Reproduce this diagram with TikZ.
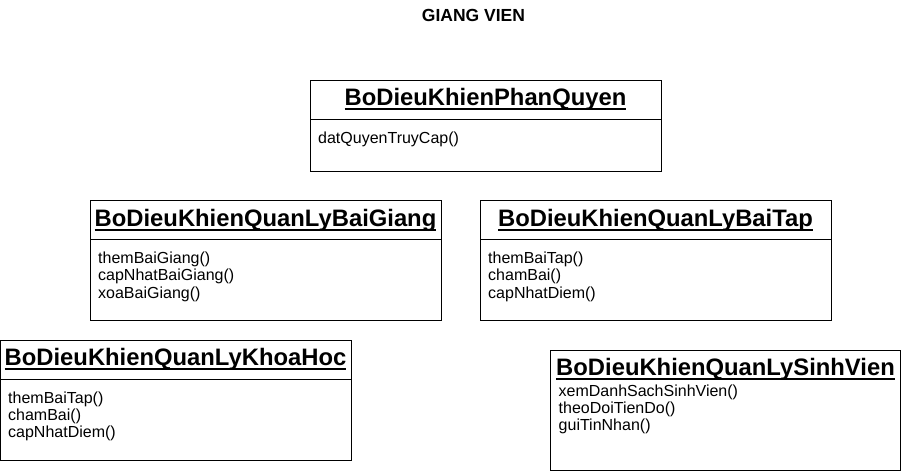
\documentclass[tikz,border=0pt]{standalone}
\usepackage{fontspec}
\setmainfont{Liberation Sans}
\usetikzlibrary{positioning,calc}
\newcommand{\clsname}[1]{\setbox0\hbox{#1}\rlap{\rule[-4.8pt]{\wd0}{2.2pt}}\box0}
\newcommand{\ctrl}[5]{%
  \node[cls,minimum height=#3] (#1) at (#2) {};
  \node[ctitle] (#1-t) at ([yshift=-25.5pt]#1.north) {\clsname{#4}};
  \draw[line width=1pt] ([yshift=-39pt]#1.north west) -- ([yshift=-39pt]#1.north east);
  \node[cops] (#1-m) at ([xshift=8pt,yshift=-51.5pt]#1.north west) {#5};}

\begin{document}
\begin{tikzpicture}[x=1pt,y=-1pt,
  cls/.style={draw,line width=1pt,minimum width=351pt,inner sep=0pt,outer sep=0pt},
  ctitle/.style={anchor=base,inner sep=0pt,font=\fontsize{23.8}{28}\selectfont\bfseries},
  cops/.style={anchor=north west,inner sep=0pt,align=left,font=\fontsize{16}{17.2}\selectfont},
  ttl/.style={anchor=base,inner sep=0pt,font=\fontsize{17.5}{21}\selectfont\bfseries}]
\useasboundingbox (0,0) rectangle (901,471);
% ---- heading
\node[ttl] (title) at (473.5,21.7) {GIANG VIEN};
% ---- row 1
\ctrl{pq}{485.5,125.5}{91pt}{BoDieuKhienPhanQuyen}{datQuyenTruyCap()}
% ---- row 2
\ctrl{bg}{265.5,260.5}{120pt}{BoDieuKhienQuanLyBaiGiang}{themBaiGiang()\\capNhatBaiGiang()\\xoaBaiGiang()}
\ctrl{bt}{655.5,260.5}{120pt}{BoDieuKhienQuanLyBaiTap}{themBaiTap()\\chamBai()\\capNhatDiem()}
% ---- row 3
\ctrl{kh}{175.5,400}{120pt}{BoDieuKhienQuanLyKhoaHoc}{themBaiTap()\\chamBai()\\capNhatDiem()}
\node[cls,minimum width=350pt,minimum height=120pt] (sv) at (725.5,410.5) {};
\node[ctitle] (sv-t) at ([yshift=-24.5pt]sv.north) {\clsname{BoDieuKhienQuanLySinhVien}};
\node[cops] (sv-m) at ([xshift=8pt,yshift=-34pt]sv.north west) {xemDanhSachSinhVien()\\theoDoiTienDo()\\guiTinNhan()};
\end{tikzpicture}
\end{document}
